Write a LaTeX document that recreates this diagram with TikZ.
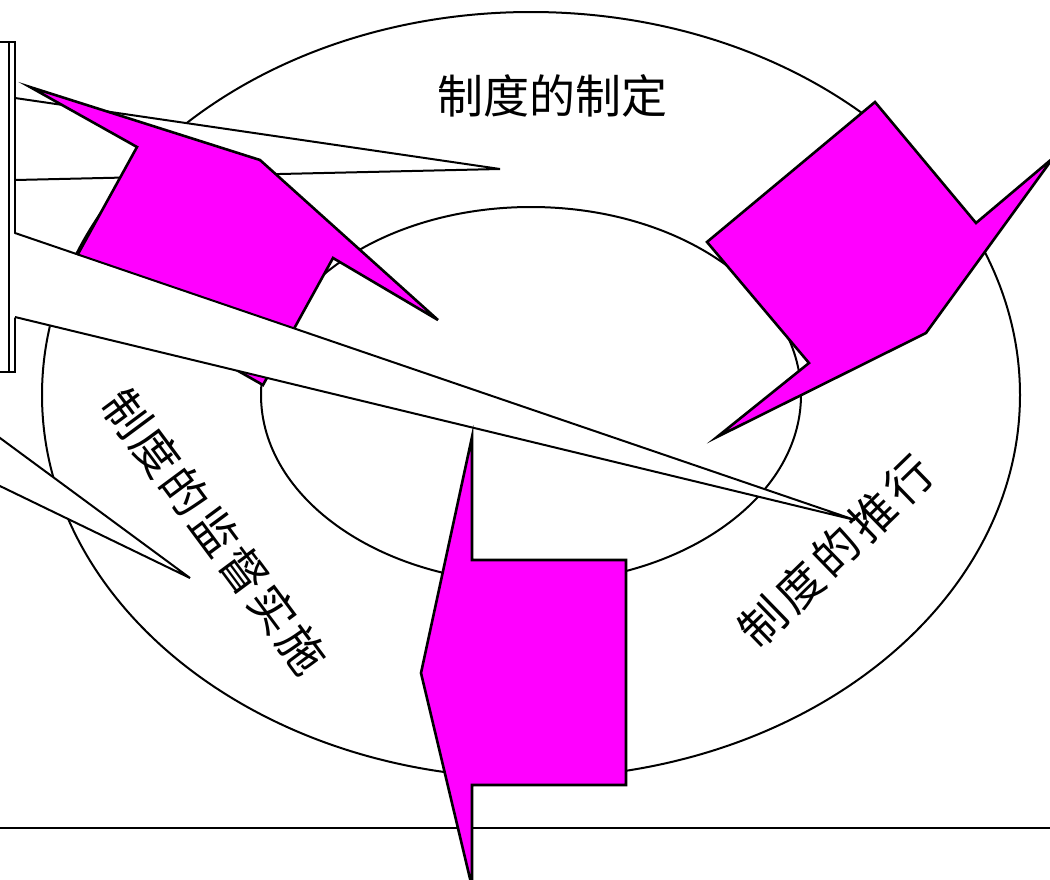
\documentclass[tikz,border=0pt]{standalone}
\usepackage{fontspec}
\newfontfamily\cjk{Noto Sans CJK SC}
\definecolor{mag}{RGB}{255,0,255}
\begin{document}
\begin{tikzpicture}[x=1pt,y=-1pt,
  outline/.style={draw=black,line width=2pt},
  ring/.style={outline,fill=white},
  blockarrow/.style={draw=black,line width=2.6pt,fill=mag,line join=miter},
  callout/.style={draw=black,line width=2pt,line join=miter},
  lbl/.style={font=\cjk\fontsize{46}{46}\selectfont,inner sep=0pt}]
\useasboundingbox (0,0) rectangle (1050,879);
\clip (0,0) rectangle (1050,879);
\fill[white] (0,0) rectangle (1050,879);
% rings
\coordinate (c) at (531,395);
\draw[ring] (c) ellipse [x radius=489, y radius=383];
\draw[ring] (c) ellipse [x radius=270, y radius=188];
% base line
\coordinate (baseL) at (0,828);
\coordinate (baseR) at (1050,828);
\draw[outline] (baseL) -- (baseR);
% callout wedge from the left (off page)
\fill[white] (-10,430.6) -- (190,578) -- (-10,481.2) -- cycle;
\draw[callout] (-10,430.6) -- (190,578) -- (-10,481.2);
% callout wedge 1
\fill[white] (12,98) -- (500,169) -- (12,180) -- cycle;
\draw[callout] (15,98) -- (500,169) -- (15,180);
% box at the left edge
\draw[outline,fill=white] (-20,42) rectangle (15,372);
\draw[outline] (8.5,42) -- (8.5,372);
% top-left block arrow
\draw[blockarrow] (30,87) -- (260,160) -- (438,320) -- (333,258) -- (263,385)
  -- (67,274) -- (137,147) -- cycle;
% long callout wedge 2
\fill[white] (12,233) -- (855,520) -- (12,317) -- cycle;
\draw[callout] (15,233) -- (855,520) -- (15,317);
% right block arrow
\draw[blockarrow] (875,102) -- (976,223) -- (1053,158) -- (926,333) -- (717,437)
  -- (809,363) -- (707,242) -- cycle;
% bottom block arrow
\draw[blockarrow] (472,437) -- (472,560) -- (626,560) -- (626,785) -- (472,785)
  -- (472,887) -- (421,673) -- cycle;
% labels
\node[lbl] (make) at (552,96) {制度的制定};
\node[lbl,rotate=-53.4] (watch) at (215,531) {制\kern3pt 度\kern3pt 的\kern3pt 监\kern3pt 督\kern3pt 实\kern3pt 施};
\node[lbl,rotate=44.2] (push) at (836,551) {制\kern5pt 度\kern5pt 的\kern5pt 推\kern5pt 行};
\end{tikzpicture}
\end{document}
